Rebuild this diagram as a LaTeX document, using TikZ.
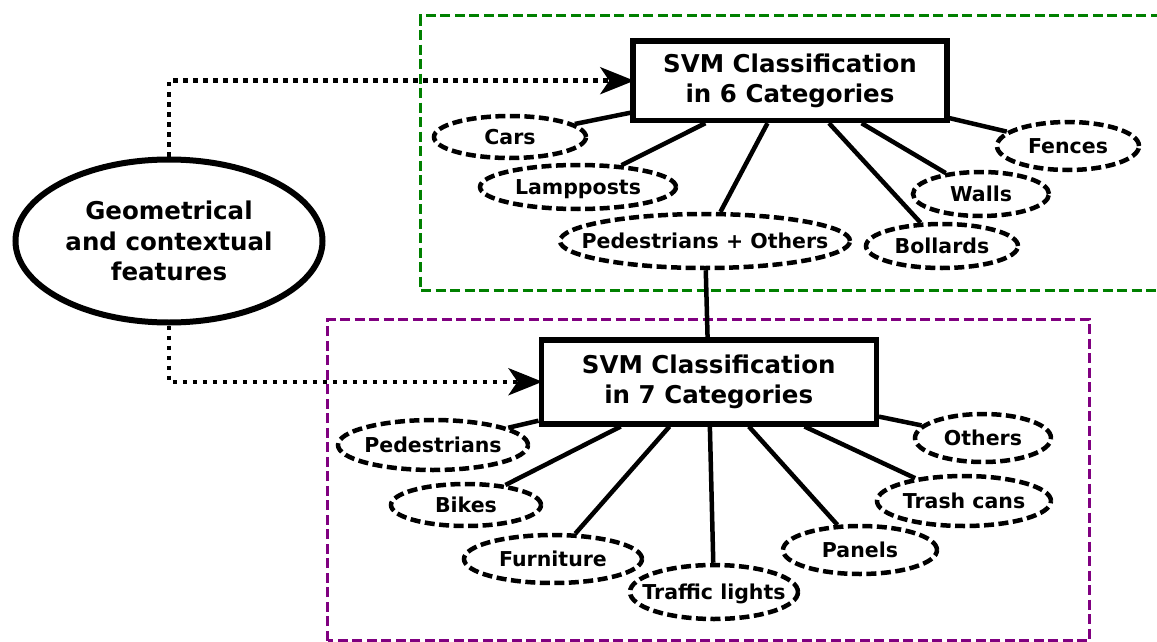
\documentclass[tikz,border=0pt]{standalone}
\usepackage{fontspec}
\setmainfont{DejaVu Sans}
\usetikzlibrary{shapes.geometric,arrows.meta}
\newcommand{\zw}[1]{\makebox[0pt]{#1}}
\definecolor{frgreen}{RGB}{0,128,0}
\definecolor{frpurple}{RGB}{128,0,128}
\begin{document}
\begin{tikzpicture}[x=1pt,y=-1pt,
  cat/.style={ellipse, draw, line width=4.5pt, dash pattern=on 10pt off 4.5pt, inner sep=0pt,
    text height=14.6pt, text depth=0pt, font=\fontsize{20.5}{24}\selectfont\bfseries},
  svmbox/.style={rectangle, draw, line width=5.5pt, inner sep=0pt, align=center,
    font=\fontsize{24.5}{30}\selectfont\bfseries},
  featnode/.style={ellipse, draw, line width=6pt, inner sep=0pt, align=center,
    font=\fontsize{24.5}{30.5}\selectfont\bfseries},
  link/.style={line width=4.5pt},
  feed/.style={line width=4.5pt, dash pattern=on 4.5pt off 5.5pt, shorten >=-4pt,
    -{Stealth[length=34pt,width=27pt,inset=9pt]}},
  frame/.style={line width=3pt, dash pattern=on 10pt off 4.5pt}]
\useasboundingbox (0,0) rectangle (1157,642);
% frames
\draw[frame, frgreen] (1175,16) -- (420.7,16) -- (420.7,290.7) -- (1175,290.7);
\draw[frame, frpurple] (327.5,640.5) rectangle (1089.5,319.5);
% main nodes
\node[featnode, minimum width=307pt, minimum height=163pt] (geo) at (169,241)
  {Geometrical\\and contextual\\features};
\node[svmbox, minimum width=314pt, minimum height=79.5pt] (b6) at (790,80.7)
  {SVM Classification\\in 6 Categories};
\node[svmbox, minimum width=335pt, minimum height=84pt] (b7) at (708.75,381.75)
  {SVM Classification\\in 7 Categories};
% six categories
\node[cat, minimum width=152pt, minimum height=42pt] (cars) at (510,137) {\zw{Cars}};
\node[cat, minimum width=196pt, minimum height=44pt] (lamp) at (578,187) {\zw{Lampposts}};
\node[cat, minimum width=290pt, minimum height=54pt] (po) at (705,241) {\zw{Pedestrians + Others}};
\node[cat, minimum width=142pt, minimum height=48pt] (fences) at (1068,146) {\zw{Fences}};
\node[cat, minimum width=136pt, minimum height=44pt] (walls) at (981,194) {\zw{Walls}};
\node[cat, minimum width=152pt, minimum height=44pt] (boll) at (942,246) {\zw{Bollards}};
% seven categories
\node[cat, minimum width=190pt, minimum height=50pt] (ped) at (433,445) {\zw{Pedestrians}};
\node[cat, minimum width=150pt, minimum height=42pt] (bikes) at (466,505) {\zw{Bikes}};
\node[cat, minimum width=178pt, minimum height=48pt] (furn) at (553,559) {\zw{Furniture}};
\node[cat, minimum width=168pt, minimum height=54pt] (traffic) at (714,592) {\zw{Traffic lights}};
\node[cat, minimum width=154pt, minimum height=48pt] (panels) at (860,550) {\zw{Panels}};
\node[cat, minimum width=174pt, minimum height=50pt] (trash) at (964,501) {\zw{Trash cans}};
\node[cat, minimum width=136pt, minimum height=48pt] (others) at (983,438) {\zw{Others}};
% connectors
\foreach \n in {cars,lamp,po,fences,walls,boll} \draw[link] (b6) -- (\n);
\foreach \n in {ped,bikes,furn,traffic,panels,trash,others} \draw[link] (b7) -- (\n);
\draw[link] (po) -- (b7);
\draw[feed] (geo.north) |- (b6.west);
\draw[feed] (geo.south) |- (b7.west);
\end{tikzpicture}
\end{document}
